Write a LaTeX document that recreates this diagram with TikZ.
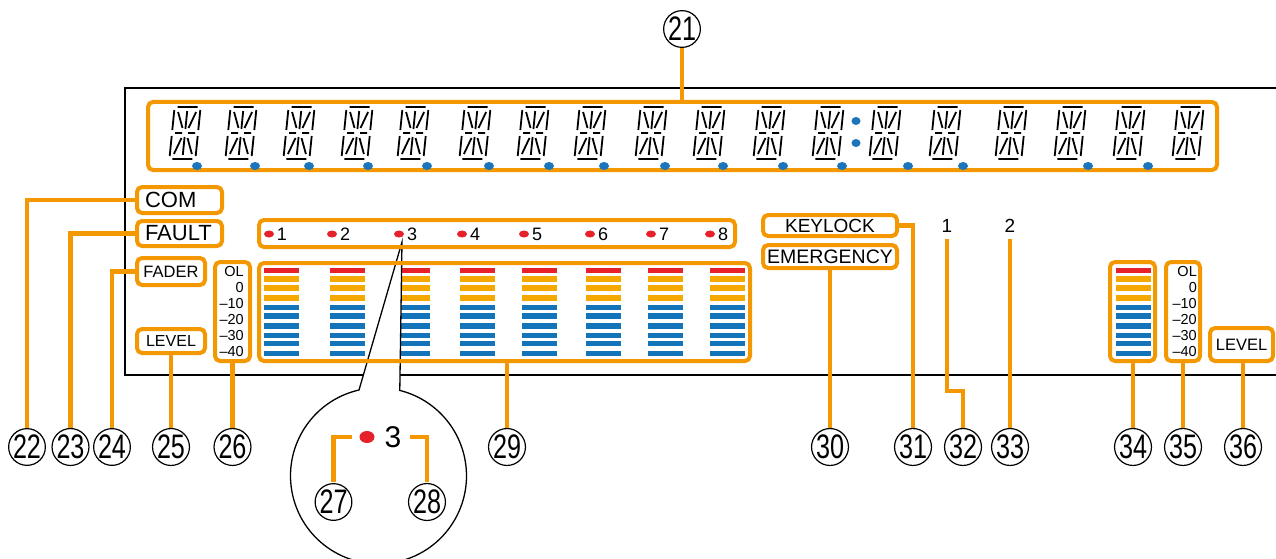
\documentclass[tikz,border=0pt]{standalone}
\usepackage{fontspec}
\setmainfont{Liberation Sans}
\usepackage{graphicx}
\definecolor{org}{HTML}{F39800}
\definecolor{barred}{HTML}{E62129}
\definecolor{baryel}{HTML}{F5A800}
\definecolor{barblue}{HTML}{1474BA}
\definecolor{dotblue}{HTML}{1A75BC}
\pgfdeclarelayer{bg}
\pgfsetlayers{bg,main}
\newcommand\fs[1]{\fontsize{#1}{#1}\selectfont}
\newcommand\cnode[4]{\node[cnum] (#1) at (#2,#3) {\scalebox{0.74}[1]{#4}};}
\begin{document}
\begin{tikzpicture}[x=1pt,y=-1pt,
  obox/.style={draw=org, line width=4pt, rounded corners=5pt, inner sep=0pt},
  conn/.style={draw=org, line width=4.5pt},
  cnum/.style={circle, draw=black, line width=1.2pt, minimum size=35pt, inner sep=0pt, fill=white, font=\fs{34}},
  seg/.style={line width=1.8pt},
  lbl/.style={inner sep=0pt},
]
\useasboundingbox (0,0) rectangle (1276,559);
\begin{pgfonlayer}{bg}
\fill[white] (0,0) rectangle (1276,559);
\draw[line width=2pt] (1290,88) -- (125,88) -- (125,375) -- (1290,375);
\end{pgfonlayer}

% meter bars
\foreach \x in {264,329.5,395,460,522,586,648,710,1116}{
  \foreach \y/\c in {270.5/barred,279/baryel,288/baryel,298/baryel,307.5/barblue,316/barblue,326/barblue,335.5/barblue,343.5/barblue,353.5/barblue}{
    \fill[\c] (\x,\y-2.8) rectangle (\x+35,\y+2.8);
  }
}

% callout magnifier
\filldraw[fill=white, draw=black, line width=1.3pt] (402,242) -- (359,390) arc[start angle=102.8, end angle=436, radius=88pt] -- cycle;
\fill[barred] (367,437) ellipse[x radius=7.5pt, y radius=6pt];
\node[lbl, font=\fs{30}] (big3) at (393,437) {3};
\coordinate (b27) at (352,437);
\coordinate (b28) at (410,437);

% boxes
\node[obox, minimum width=1069pt, minimum height=68pt] (display) at (682.5,136) {};
\node[obox, text width=69pt, inner xsep=8pt, align=left, minimum height=26pt, font=\fs{22}] (com) at (179.5,200) {COM};
\node[obox, text width=69pt, inner xsep=8pt, align=left, minimum height=25pt, font=\fs{22}] (fault) at (179.5,233.5) {FAULT};
\node[obox, minimum width=68pt, minimum height=27pt, font=\fs{16.5}] (fader) at (171,271.5) {FADER};
\node[obox, minimum width=68pt, minimum height=24pt, font=\fs{16}] (level) at (171,341) {LEVEL};
\node[obox, minimum width=35pt, minimum height=99pt] (scaleL) at (232.5,311.5) {};
\node[obox, minimum width=476pt, minimum height=27pt] (chan) at (497,233.5) {};
\node[obox, minimum width=491pt, minimum height=98pt] (meterL) at (504.5,312) {};
\node[obox, minimum width=134pt, minimum height=21pt, font=\fs{19}] (keylock) at (830,225.5) {KEYLOCK};
\node[obox, minimum width=134pt, minimum height=23pt, font=\fs{19.5}] (emerg) at (830,256.5) {EMERGENCY};
\node[obox, minimum width=45pt, minimum height=99pt] (meterR) at (1132.5,311.5) {};
\node[obox, minimum width=34pt, minimum height=99pt] (scaleR) at (1183,311.5) {};
\node[obox, minimum width=63pt, minimum height=33pt, font=\fs{16.5}] (levelR) at (1241.5,344.5) {LEVEL};

% scale labels
\foreach \t/\y [count=\i] in {OL/272,0/288,{–10}/304,{–20}/320,{–30}/336,{–40}/352}{
  \node[lbl, anchor=east, font=\fs{14.5}] (sl\i) at (244,\y) {\t};
  \node[lbl, anchor=east, font=\fs{14.5}] (sr\i) at (1197,\y) {\t};
}

% channel indicators
\foreach \i/\d in {1/269,2/332,3/399,4/462,5/524,6/590,7/651,8/710}{
  \fill[barred] (\d,234) ellipse[x radius=5pt, y radius=3.5pt];
  \node[lbl, font=\fs{18}] (ch\i) at (\d+13,234) {\i};
}

% right labels 1 2
\node[font=\fs{19}] (lab1) at (947,226) {1};
\node[font=\fs{19}] (lab2) at (1010,226) {2};

% digits
\foreach \dx in {185,241,299,357,413,475,533,590,651,709,769,828,885,945,1011,1070,1129,1188}{
  \begin{scope}[shift={(\dx,133)}, xslant=0.1]
    \draw[seg] (-10,-26)--(10,-26) (-10,26)--(10,26)
      (-13,-23)--(-13,-3) (-13,3)--(-13,23)
      (13,-23)--(13,-3) (13,3)--(13,23)
      (0,-22)--(0,-4) (0,4)--(0,22)
      (-10,0)--(-3,0) (3,0)--(10,0)
      (-9,-21)--(-3,-5) (9,-21)--(3,-5)
      (-9,21)--(-3,5) (9,21)--(3,5);
  \end{scope}
}
\foreach \dx in {197,255,309,368,427,489,549,604,665,723,783,842,908,963,1088,1148}{
  \fill[dotblue] (\dx,166) ellipse[x radius=5pt, y radius=4pt];
}
\fill[dotblue] (856,121) ellipse[x radius=4.5pt, y radius=4pt];
\fill[dotblue] (856,143) ellipse[x radius=4.5pt, y radius=4pt];

% circled numbers
\cnode{c21}{682}{29}{21}
\cnode{c22}{27}{447}{22}
\cnode{c23}{70.5}{447}{23}
\cnode{c24}{112}{447}{24}
\cnode{c25}{171}{447}{25}
\cnode{c26}{232.5}{447}{26}
\cnode{c27}{333.5}{502}{27}
\cnode{c28}{427}{502}{28}
\cnode{c29}{507}{447}{29}
\cnode{c30}{830}{447}{30}
\cnode{c31}{913}{447}{31}
\cnode{c32}{963}{447}{32}
\cnode{c33}{1010}{447}{33}
\cnode{c34}{1133}{447}{34}
\cnode{c35}{1183}{447}{35}
\cnode{c36}{1243}{447}{36}
\coordinate (j32) at (963,391);

% connectors inside the callout
\draw[conn, shorten <=0.6pt] (c27.north) |- (b27);
\draw[conn, shorten <=0.6pt] (c28.north) |- (b28);

% connectors
\begin{pgfonlayer}{bg}
\draw[conn] (c21.south) -- (c21.south |- display.north);
\draw[conn] (c22.north) |- (com.west);
\draw[conn] (c23.north) |- (fault.west);
\draw[conn] (c24.north) |- (fader.west);
\draw[conn] (c25.north) -- (c25.north |- level.south);
\draw[conn] (c26.north) -- (c26.north |- scaleL.south);
\draw[conn] (c29.north) -- (c29.north |- meterL.south);
\draw[conn] (c30.north) -- (c30.north |- emerg.south);
\draw[conn] (c31.north) |- (keylock.east);
\draw[conn, shorten <=3pt] (lab1.south) |- (j32) -- (c32.north);
\draw[conn, shorten <=3pt] (lab2.south) -- (c33.north);
\draw[conn] (c34.north) -- (c34.north |- meterR.south);
\draw[conn] (c35.north) -- (c35.north |- scaleR.south);
\draw[conn] (c36.north) -- (c36.north |- levelR.south);
\end{pgfonlayer}
\end{tikzpicture}
\end{document}
